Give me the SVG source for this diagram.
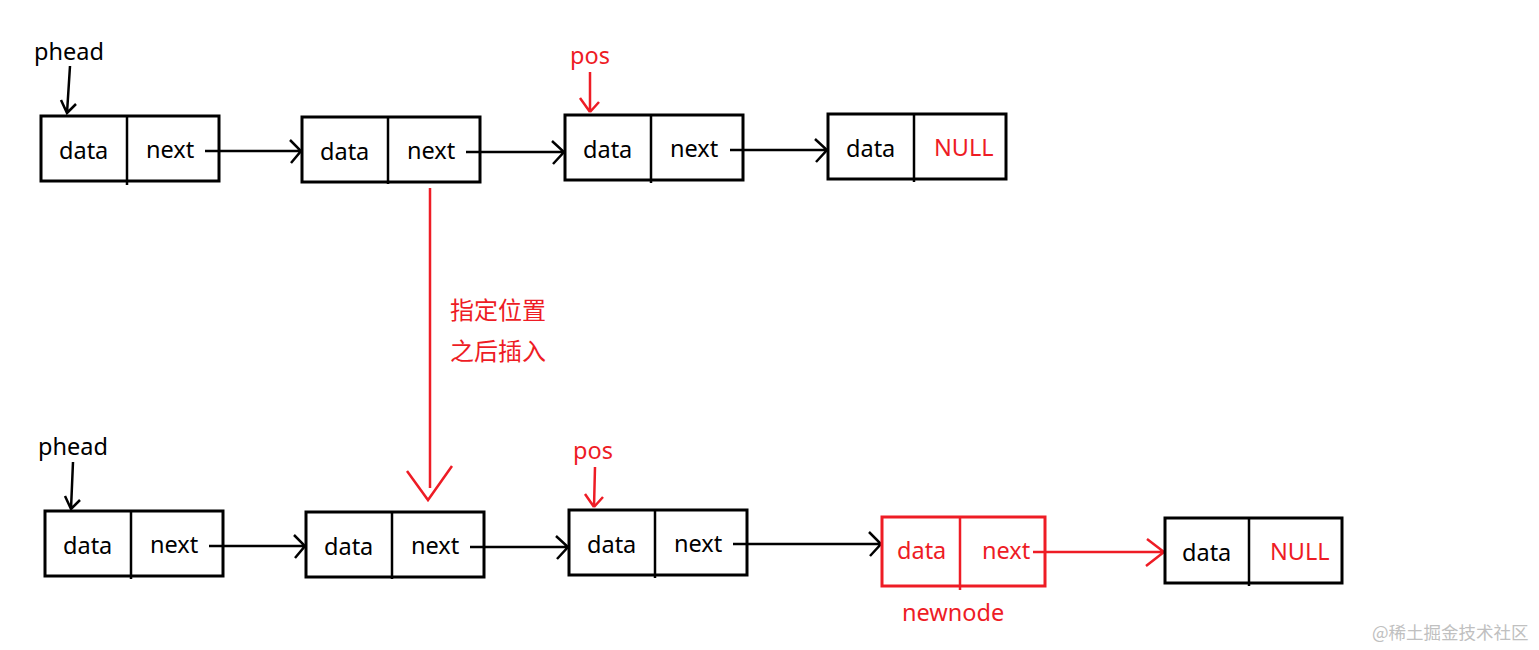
<svg xmlns="http://www.w3.org/2000/svg" width="1539" height="650" viewBox="0 0 1539 650">
<style>
.box{fill:none;stroke:#000;stroke-width:3}
.rbox{fill:none;stroke:#ee1c25;stroke-width:3}
.t{font-family:"Microsoft YaHei","Noto Sans","Noto Sans CJK SC",sans-serif;font-size:23.5px;fill:#000}
.r{fill:#ee1c25}
.cn{font-family:"Noto Sans CJK SC",sans-serif;font-size:24px;fill:#ee1c25}
.ln{stroke:#000;stroke-width:2.5;fill:none}
.rln{stroke:#ee1c25;stroke-width:2.5;fill:none}
.wm{font-family:"Noto Sans CJK SC",sans-serif;font-size:17.5px;fill:#c0c0c0}
</style>
<rect width="1539" height="650" fill="#fff"/>
<g id="connectors">
<path class="ln" d="M70 66 L67 113 M61 100 L67 113 L76 104"/>
<path class="ln" d="M205 151 H301 M290 140 L301 151 L291 163"/>
<path class="ln" d="M466 152 H564 M552 141 L564 152 L553 164"/>
<path class="ln" d="M730 150 H827 M815 139 L827 150 L816 162"/>
<path class="rln" d="M590 72 L590 112 M580 98 L590 112 M599 102 L590 112"/>
<path class="rln" d="M430 188 V488" stroke-width="3"/>
<path class="rln" d="M407 471 L428 500 L452 466"/>
<path class="ln" d="M73 462 L71 509 M65 496 L71 509 L80 500"/>
<path class="ln" d="M209 546 H305 M294 535 L305 546 L295 558"/>
<path class="ln" d="M470 547 H568 M556 536 L568 547 L557 559"/>
<path class="ln" d="M733 544 H881 M869 532 L881 544 L870 556" stroke-width="3"/>
<path class="rln" d="M595 467 L594 507 M585 494 L594 507 M603 497 L594 507"/>
<path class="rln" d="M1033 552 H1164 M1147 539 L1164 552 L1146 566"/>
</g>
<g id="label-phead1"><text class="t" x="34" y="60">phead</text></g>
<g id="label-pos1"><text class="t r" x="570" y="64">pos</text></g>
<g id="top-node1">
<rect class="box" x="41" y="116" width="178" height="65"/>
<line class="ln" x1="127" y1="116" x2="127" y2="185" stroke-width="3"/>
<text class="t" x="59" y="159">data</text><text class="t" x="146" y="158">next</text>
</g>
<g id="top-node2">
<rect class="box" x="302" y="117" width="178" height="65"/>
<line class="ln" x1="388" y1="117" x2="388" y2="184" stroke-width="3"/>
<text class="t" x="320" y="160">data</text><text class="t" x="407" y="159">next</text>
</g>
<g id="top-node3">
<rect class="box" x="565" y="115" width="178" height="65"/>
<line class="ln" x1="651" y1="115" x2="651" y2="183" stroke-width="3"/>
<text class="t" x="583" y="158">data</text><text class="t" x="670" y="157">next</text>
</g>
<g id="top-node4">
<rect class="box" x="828" y="114" width="178" height="65"/>
<line class="ln" x1="914" y1="114" x2="914" y2="182" stroke-width="3"/>
<text class="t" x="846" y="157">data</text><text class="t r" x="934" y="156">NULL</text>
</g>
<g id="label-insert">
<text class="cn" x="450" y="319">指定位置</text>
<text class="cn" x="450" y="360">之后插入</text>
</g>
<g id="label-phead2"><text class="t" x="38" y="455">phead</text></g>
<g id="label-pos2"><text class="t r" x="573" y="459">pos</text></g>
<g id="bottom-node1">
<rect class="box" x="45" y="511" width="178" height="65"/>
<line class="ln" x1="131" y1="511" x2="131" y2="579" stroke-width="3"/>
<text class="t" x="63" y="554">data</text><text class="t" x="150" y="553">next</text>
</g>
<g id="bottom-node2">
<rect class="box" x="306" y="512" width="178" height="65"/>
<line class="ln" x1="392" y1="512" x2="392" y2="579" stroke-width="3"/>
<text class="t" x="324" y="555">data</text><text class="t" x="411" y="554">next</text>
</g>
<g id="bottom-node3">
<rect class="box" x="569" y="510" width="178" height="65"/>
<line class="ln" x1="655" y1="510" x2="655" y2="578" stroke-width="3"/>
<text class="t" x="587" y="553">data</text><text class="t" x="674" y="552">next</text>
</g>
<g id="newnode">
<rect class="rbox" x="882" y="517" width="163" height="69"/>
<line class="rln" x1="960" y1="517" x2="960" y2="590" stroke-width="3"/>
<text class="t r" x="897" y="559">data</text><text class="t r" x="982" y="559">next</text>
<text class="t r" x="902" y="621" font-size="24">newnode</text>
</g>
<g id="bottom-node5">
<rect class="box" x="1165" y="518" width="177" height="65"/>
<line class="ln" x1="1249" y1="518" x2="1249" y2="586" stroke-width="3"/>
<text class="t" x="1182" y="561">data</text><text class="t r" x="1270" y="560">NULL</text>
</g>
<text class="wm" x="1372" y="639">@稀土掘金技术社区</text>
</svg>
